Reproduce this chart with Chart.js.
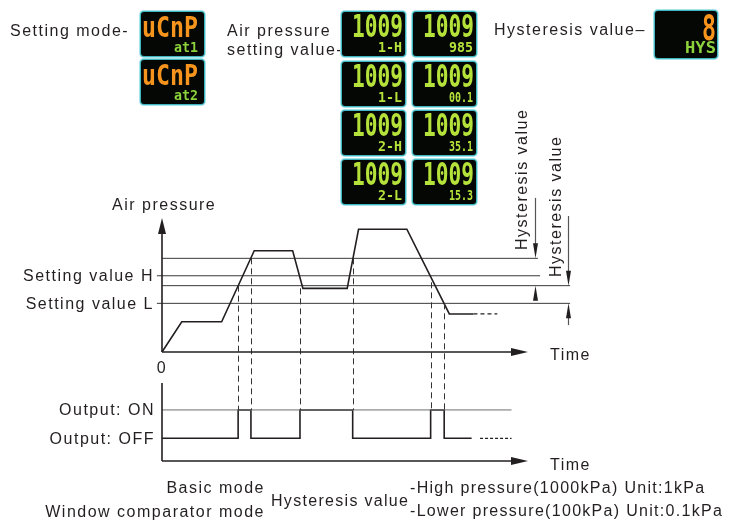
<!DOCTYPE html>
<html>
<head>
<meta charset="utf-8">
<script src="https://cdn.jsdelivr.net/npm/chart.js@4/dist/chart.umd.min.js"></script>
<style>
  html, body { margin: 0; padding: 0; background: #fff; }
  canvas { display: block; }
</style>
</head>
<body>
<canvas id="diagram" width="729" height="523"></canvas>
<script>
// time runs 0..100 along the arrow, pressure 0..100 up the arrow (units)
const pressureTimes  = [0, 5.4, 16.3, 25.2, 35.7, 38.5, 50.6, 53.7, 66.9, 78.5, 85.1];
const pressureValues = [0, 22.6, 22.6, 75.6, 75.6, 47.5, 47.5, 91.6, 91.6, 28.4, 28.4];
const pressureTail   = [85.1, 91.6];

const levelNames  = ['H + hysteresis', 'Setting value H', 'L + hysteresis', 'Setting value L'];
const levelValues = [69.9, 56.9, 49.5, 36.3];
const levelStart  = [0, -1.4, 0, -1.4];
const levelEnd    = [102.7, 103.3, 111.5, 111.5];

const switchTimes = [20.8, 24.3, 37.7, 52.1, 73.4, 77.1];
const switchFrom  = [49.5, 69.9, 47.5, 69.9, 52, 36.3];

const outputTimes  = [0, 20.8, 24.3, 37.7, 52.1, 73.4, 77.1, 84.6];
const outputStates = [0, 1, 0, 1, 0, 1, 0, 0];
const outputTail   = [86.9, 95.5];
const onLineEnd    = 95.5;

const hystTimes  = [101.9, 110.8];
const hystHigh   = [69.9, 49.5];
const hystLow    = [49.5, 36.3];
const hystTop    = [115, 101.5];
const hystBottom = [40.3, 20.1];

const modePanels = [['uCnP', 'at1'], ['uCnP', 'at2']];
const pressurePanels = [
  ['1009', '1-H'], ['1009', '985'],
  ['1009', '1-L'], ['1009', '00.1'],
  ['1009', '2-H'], ['1009', '35.1'],
  ['1009', '2-L'], ['1009', '15.3']
];
const hystPanel = ['8', 'HYS'];

const INK = '#231f20';
const ORANGE = '#f7941d';
const LIME = '#b5e23a';
const GREEN = '#8cd23c';
const TEXT_FONT = '16px "Liberation Sans", Arial, sans-serif';

function pts(xs, ys) { return xs.map((x, i) => ({ x: x, y: ys[i] })); }

function line(ctx, x1, y1, x2, y2) {
  ctx.beginPath(); ctx.moveTo(x1, y1); ctx.lineTo(x2, y2); ctx.stroke();
}

function head(ctx, x, y, dir, len, half) {
  ctx.beginPath();
  ctx.moveTo(x, y);
  if (dir === 'up')    { ctx.lineTo(x - half, y + len); ctx.lineTo(x + half, y + len); }
  if (dir === 'down')  { ctx.lineTo(x - half, y - len); ctx.lineTo(x + half, y - len); }
  if (dir === 'right') { ctx.lineTo(x - len, y - half); ctx.lineTo(x - len, y + half); }
  ctx.closePath();
  ctx.fill();
}

function segText(ctx, s, right, base, capH, width, color) {
  const size = capH / 0.73;
  ctx.font = 'bold ' + size.toFixed(1) + 'px "DejaVu Sans Mono", monospace';
  const m = ctx.measureText(s).width;
  ctx.save();
  ctx.translate(right, base);
  ctx.scale(width / m, 1);
  ctx.textAlign = 'right';
  ctx.fillStyle = color;
  ctx.fillText(s, 0, 0);
  ctx.restore();
}

function lcd(ctx, x, y, w, h, big, small, spec) {
  ctx.save();
  ctx.fillStyle = '#a6e4ea';
  ctx.beginPath(); ctx.roundRect(x - 2, y - 2, w + 4, h + 4, 5); ctx.fill();
  ctx.fillStyle = '#3fb6c0';
  ctx.beginPath(); ctx.roundRect(x - 1, y - 1, w + 2, h + 2, 4); ctx.fill();
  ctx.fillStyle = '#050705';
  ctx.beginPath(); ctx.roundRect(x, y, w, h, 3); ctx.fill();
  segText(ctx, big, x + w - spec.bigRight, y + spec.bigBase, spec.bigCap, spec.bigW, spec.bigColor);
  segText(ctx, small, x + w - spec.smallRight, y + spec.smallBase, spec.smallCap, spec.smallW, spec.smallColor);
  ctx.restore();
}

const outputBand = {
  id: 'outputBand',
  afterLayout(chart) {
    const s = chart.scales.yOut;
    s.top = 383; s.bottom = 461; s.height = 78;
    s.configure();
  }
};

const sketch = {
  id: 'sketch',
  afterDatasetsDraw(chart) {
    const ctx = chart.ctx;
    const xs = chart.scales.x, ys = chart.scales.y, yo = chart.scales.yOut;
    const X = v => xs.getPixelForValue(v);
    const Y = v => ys.getPixelForValue(v);
    const O = v => yo.getPixelForValue(v);
    ctx.save();
    ctx.strokeStyle = INK; ctx.fillStyle = INK;

    // dashed switching guides
    ctx.lineWidth = 1; ctx.setLineDash([6, 4]); ctx.strokeStyle = '#333';
    switchTimes.forEach((t, i) => line(ctx, Math.round(X(t)) + 0.5, Y(switchFrom[i]), Math.round(X(t)) + 0.5, O(1)));
    ctx.setLineDash([]); ctx.strokeStyle = INK;

    // pressure axes
    ctx.lineWidth = 1.6;
    const x0 = X(0), y0 = Y(0);
    line(ctx, x0, y0, x0, Y(100) + 12);
    head(ctx, x0, Y(100), 'up', 16, 4);
    line(ctx, x0, y0, X(100) - 14, y0);
    head(ctx, X(100), y0, 'right', 17, 4);
    // output axes
    line(ctx, x0, O(yo.max), x0, O(yo.min));
    line(ctx, x0, O(yo.min), X(100) - 14, O(yo.min));
    head(ctx, X(100), O(yo.min), 'right', 17, 4);

    // hysteresis arrows
    ctx.lineWidth = 1.2; ctx.strokeStyle = '#555'; ctx.fillStyle = INK;
    hystTimes.forEach((t, i) => {
      const x = Math.round(X(t)) + 0.5;
      line(ctx, x, Y(hystTop[i]), x, Y(hystHigh[i]) - 10);
      head(ctx, x, Y(hystHigh[i]), 'down', 15, 2.5);
      line(ctx, x, Y(hystBottom[i]), x, Y(hystLow[i]) + 10);
      head(ctx, x, Y(hystLow[i]), 'up', 15, 2.5);
    });

    // texts
    ctx.fillStyle = INK;
    ctx.font = TEXT_FONT;
    ctx.letterSpacing = '1.5px';
    ctx.textBaseline = 'alphabetic';
    const txt = (s, x, y, a) => { ctx.textAlign = a || 'left'; ctx.fillText(s, x, y); };
    txt('Setting mode-', 10, 36);
    txt('Air pressure', 227, 36);
    txt('setting value-', 227, 55);
    txt('Hysteresis value\u2013', 494, 35);
    txt('Air pressure', 112, 210);
    txt('Setting value H', 154, Y(levelValues[1]) + 5.5, 'right');
    txt('Setting value L', 154, Y(levelValues[3]) + 5.5, 'right');
    txt('0', x0, y0 + 21, 'center');
    txt('Time', 550, y0 + 8);
    txt('Output: ON', 155, O(1) + 5.5, 'right');
    txt('Output: OFF', 155, O(0) + 5.5, 'right');
    txt('Time', 550, O(yo.min) + 9);
    txt('Basic mode', 265, 493, 'right');
    txt('Window comparator mode', 265, 517, 'right');
    ctx.letterSpacing = '1.3px';
    txt('Hysteresis value', 271, 506);
    txt('-High pressure(1000kPa) Unit:1kPa', 410, 493);
    txt('-Lower pressure(100kPa) Unit:0.1kPa', 410, 516);
    ctx.letterSpacing = '1.5px';
    [[527, 250], [561, 277]].forEach(p => {
      ctx.save();
      ctx.translate(p[0], p[1]);
      ctx.rotate(-Math.PI / 2);
      txt('Hysteresis value', 0, 0);
      ctx.restore();
    });
    ctx.letterSpacing = '0px';

    // display panels
    const modeSpec = { bigRight: 6, bigBase: 25, bigCap: 21, bigW: 56, bigColor: ORANGE,
                       smallRight: 6, smallBase: 40, smallCap: 10, smallW: 24, smallColor: GREEN };
    modePanels.forEach((p, i) => lcd(ctx, 141, [12, 60][i], 63, 44, p[0], p[1], modeSpec));
    const presSpec = { bigRight: 2, bigBase: 25, bigCap: 23, bigW: 51, bigColor: LIME,
                       smallRight: 3, smallBase: 40, smallCap: 10, smallW: 24, smallColor: LIME };
    pressurePanels.forEach((p, i) => {
      lcd(ctx, [342, 413][i % 2], [12, 62, 111, 160][Math.floor(i / 2)], 63, 44, p[0], p[1], presSpec);
    });
    const hystSpec = { bigRight: 1, bigBase: 29, bigCap: 26, bigW: 14, bigColor: ORANGE,
                       smallRight: 1, smallBase: 42, smallCap: 12, smallW: 31, smallColor: GREEN };
    lcd(ctx, 655, 11, 62, 47, hystPanel[0], hystPanel[1], hystSpec);

    ctx.restore();
  }
};

const datasets = [
  { label: 'Air pressure', data: pts(pressureTimes, pressureValues), borderWidth: 1.6 },
  { label: 'Air pressure (continues)', data: pts(pressureTail, pressureTail.map(() => pressureValues[pressureValues.length - 1])),
    borderWidth: 1.2, borderDash: [4, 3] },
  ...levelValues.map((v, i) => ({ label: levelNames[i], data: [{ x: levelStart[i], y: v }, { x: levelEnd[i], y: v }],
    borderColor: '#3a3a3a', borderWidth: 1 })),
  { label: 'ON level', yAxisID: 'yOut', data: [{ x: 0, y: 1 }, { x: onLineEnd, y: 1 }], borderColor: '#6d6d6d', borderWidth: 1 },
  { label: 'Output', yAxisID: 'yOut', stepped: 'before', data: pts(outputTimes, outputStates), borderWidth: 1.6 },
  { label: 'Output (continues)', yAxisID: 'yOut', data: pts(outputTail, outputTail.map(() => 0)), borderWidth: 1.2, borderDash: [3, 2] }
].map(d => Object.assign({ borderColor: INK, pointRadius: 0, fill: false, tension: 0, clip: false }, d));

new Chart(document.getElementById('diagram'), {
  type: 'line',
  data: { datasets: datasets },
  options: {
    responsive: false,
    animation: false,
    layout: { padding: { left: 162, top: 218, right: 201, bottom: 171 } },
    plugins: { legend: { display: false }, tooltip: { enabled: false }, title: { display: false } },
    scales: {
      x: { type: 'linear', min: 0, max: 100, display: false },
      y: { type: 'linear', min: 0, max: 100, display: false },
      yOut: { type: 'linear', min: -0.8, max: 1.95, display: false }
    }
  },
  plugins: [outputBand, sketch]
});
</script>
</body>
</html>
